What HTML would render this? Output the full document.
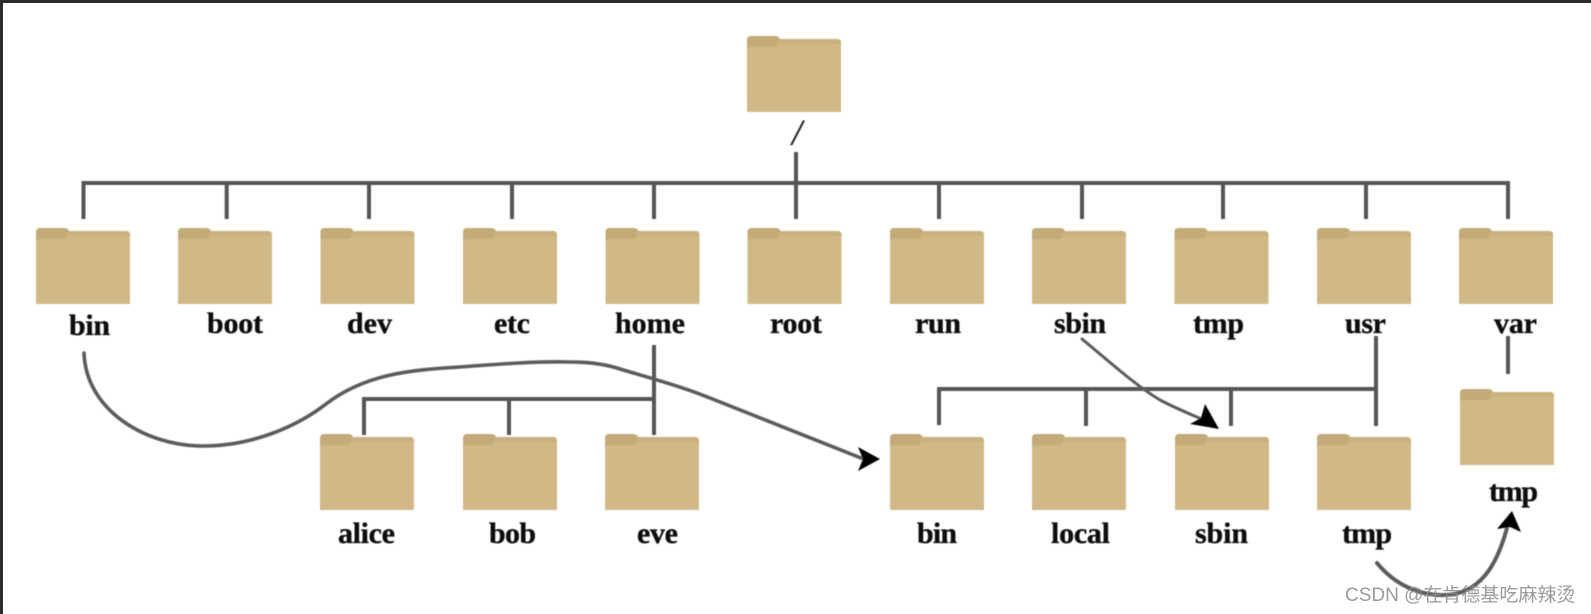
<!DOCTYPE html>
<html><head><meta charset="utf-8"><style>
html,body{margin:0;padding:0;background:#fff;width:1591px;height:614px;overflow:hidden}
svg{display:block}
.l{font-family:"Liberation Serif",serif;font-weight:bold;font-size:30px;fill:#0a0a0a;stroke:#0a0a0a;stroke-width:.35px}
</style></head><body>
<svg width="1591" height="614" viewBox="0 0 1591 614" xmlns="http://www.w3.org/2000/svg">
<defs>
<filter id="b" x="-2%" y="-2%" width="104%" height="104%"><feGaussianBlur stdDeviation=".45"/></filter>
<g id="f">
<path d="M0 76V4Q0 0 4 0H28Q32 0 33 3H90Q94 3 94 7V76Z" fill="#c3ab79"/>
<path d="M32 3H90Q94 3 94 7V9H30Z" fill="#cab27f"/>
<path d="M0 76V14Q0 11 4 11H26Q29 11 32 8H94V76Z" fill="#d1b987"/>
</g>
</defs>
<rect width="1591" height="614" fill="#fff"/>
<rect width="1591" height="3" fill="#2b2b2b"/>
<rect width="3" height="614" fill="#2b2b2b"/>

<g filter="url(#b)">
<g fill="none" stroke="#555" stroke-width="4">
<path d="M83.5 219V183H1508V219"/>
<path d="M226.7 183V219M369 183V219M512 183V219M654 183V219M796 152V219M939 183V219M1082 183V219M1223 183V219M1366 183V219"/>
<path d="M654 345V435M364 435V399H654M509 399V435"/>
<path d="M1376 336V426M939 425V389H1376M1086 389V426M1231 389V426"/>
<path d="M1508 336V374"/>
</g>

<g>
<use href="#f" x="747" y="36"/>
<use href="#f" x="36" y="228"/><use href="#f" x="178" y="228"/><use href="#f" x="320.5" y="228"/>
<use href="#f" x="463" y="228"/><use href="#f" x="605.5" y="228"/><use href="#f" x="747.5" y="228"/>
<use href="#f" x="890" y="228"/><use href="#f" x="1032" y="228"/><use href="#f" x="1174.5" y="228"/>
<use href="#f" x="1317" y="228"/><use href="#f" x="1459" y="228"/>
<use href="#f" x="320" y="434"/><use href="#f" x="463" y="434"/><use href="#f" x="605" y="434"/>
<use href="#f" x="890" y="434"/><use href="#f" x="1032" y="434"/><use href="#f" x="1175" y="434"/>
<use href="#f" x="1317" y="434"/><use href="#f" x="1460" y="389"/>
</g>

<g fill="none" stroke="#5c5c5c" stroke-linecap="round">
<path stroke-width="3.6" d="M84 353C86 410 145 446 203 446C250 446 295 428 326 404C365 374 410 370 460 367C500 364 540 361 570 362C590 362 605 364 620 369C650 378 680 386 710 398L866 460"/>
<path stroke-width="3" d="M1082 339C1110 362 1135 385 1160 400C1175 408 1190 414 1204 420"/>
<path stroke-width="4" d="M1377 563C1395 585 1420 596 1445 595C1480 594 1497 565 1507 528"/>
</g>
<g fill="#000">
<path d="M880 459L858 447L863 459L858 471Z"/>
<path d="M1219 429L1205 404L1201 418L1190 424Z"/>
<path d="M1512 511L1497 529L1510 527L1521 532Z"/>
</g>

<text transform="translate(790.5,144.5) skewX(-10)" font-family="Liberation Serif,serif" font-size="36" fill="#222" stroke="#222" stroke-width=".5">/</text>
<text class="l" x="69" y="335" textLength="41">bin</text>
<text class="l" x="207" y="333" textLength="56">boot</text>
<text class="l" x="347" y="333" textLength="45">dev</text>
<text class="l" x="494" y="333" textLength="36">etc</text>
<text class="l" x="615" y="333" textLength="70">home</text>
<text class="l" x="770" y="333" textLength="52">root</text>
<text class="l" x="915" y="333" textLength="46">run</text>
<text class="l" x="1054" y="333" textLength="52">sbin</text>
<text class="l" x="1193" y="333" textLength="51">tmp</text>
<text class="l" x="1345" y="333" textLength="41">usr</text>
<text class="l" x="1494" y="333" textLength="43">var</text>
<text class="l" x="338" y="543" textLength="57">alice</text>
<text class="l" x="489" y="543" textLength="47">bob</text>
<text class="l" x="637" y="543" textLength="41">eve</text>
<text class="l" x="917" y="543" textLength="40">bin</text>
<text class="l" x="1051" y="543" textLength="59">local</text>
<text class="l" x="1195" y="543" textLength="53">sbin</text>
<text class="l" x="1342" y="543" textLength="50">tmp</text>
<text class="l" x="1489" y="501" textLength="49">tmp</text>
</g>
<text x="1345" y="601" font-family="Liberation Sans,Noto Sans CJK SC,sans-serif" font-size="19" fill="#8a8a8a" fill-opacity=".85">CSDN @在肯德基吃麻辣烫</text>
</svg>
</body></html>
